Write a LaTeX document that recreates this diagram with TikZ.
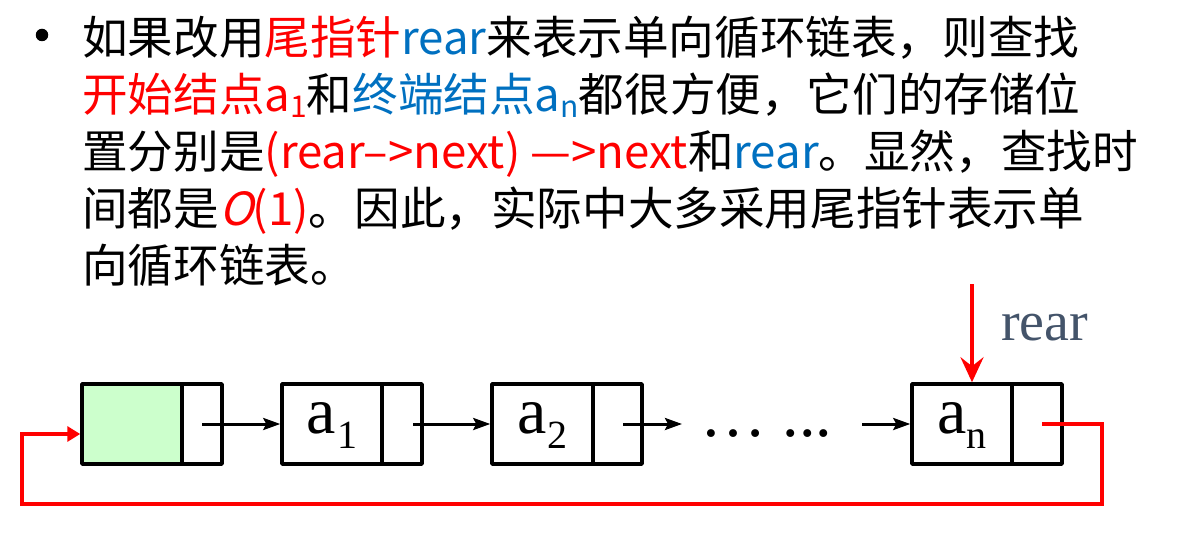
\documentclass[tikz,border=0pt]{standalone}
\usepackage{fontspec}
\setmainfont{Liberation Serif}
\newfontfamily\cjk{Noto Sans CJK SC}
\newfontfamily\cjkslant[FakeSlant=0.25]{Noto Sans CJK SC}
\usetikzlibrary{arrows.meta}
\definecolor{pptred}{RGB}{255,0,0}
\definecolor{pptblue}{RGB}{0,112,192}
\definecolor{reargray}{RGB}{68,84,106}
\definecolor{headgreen}{RGB}{204,255,204}
\newcommand{\txtsub}[1]{\raisebox{-6pt}{\fontsize{30}{30}\selectfont #1}}
\newcommand{\lblsub}[1]{\raisebox{-15pt}{\fontsize{40}{40}\selectfont #1}}
\begin{document}
\begin{tikzpicture}[x=1pt,y=-1pt,
  txt/.style={anchor=base west, inner sep=0pt, font=\cjk\fontsize{45.6}{45.6}\selectfont},
  field/.style={draw, line width=3.5pt, line join=round, minimum width=#1,
    minimum height=80pt, inner sep=0pt, text height=31pt, text depth=12pt,
    font=\fontsize{66}{66}\selectfont},
  link/.style={line width=3pt, -{Stealth[length=17pt,width=12pt,inset=3pt]}},
  redline/.style={draw=pptred, line width=4pt},
]
\useasboundingbox (0,0) rectangle (1188,553);

% bullet and text
\node[circle, fill=black, inner sep=0pt, minimum size=12.5pt] (bullet) at (42,35) {};
\node[txt] (l1) at (82,55) {如果改用{\color{pptred}尾指针}{\color{pptblue}rear}来表示单向循环链表，则查找};
\node[txt] (l2) at (82,112) {{\color{pptred}开始结点a\txtsub{1}}和{\color{pptblue}终端结点a\txtsub{n}}都很方便，它们的存储位};
\node[txt] (l3) at (82,169) {置分别是{\color{pptred}(rear–>next) —>next}和{\color{pptblue}rear}。显然，查找时};
\node[txt] (l4) at (82,226) {间都是{\color{pptred}{\cjkslant O}(1)}。因此，实际中大多采用尾指针表示单};
\node[txt] (l5) at (82,283) {向循环链表。};

% list nodes
\node[field=100pt, fill=headgreen] (h) at (132,424) {};
\node[field=40pt] (hp) at (202,424) {};
\node[field=100pt] (a1) at (332,424) {a\kern1pt\lblsub{1}};
\node[field=40pt] (a1p) at (402,424) {};
\node[field=101pt] (a2) at (542.5,424) {a\kern1pt\lblsub{2}};
\node[field=49pt] (a2p) at (617.5,424) {};
\node[field=100pt] (an) at (962,424) {a\lblsub{n}};
\node[field=50pt] (anp) at (1037,424) {};

\node[anchor=base west, inner sep=0pt, font=\fontsize{66}{66}\selectfont] (dots) at (700,436) {… ...};
\node[anchor=base west, inner sep=0pt, text=reargray, font=\fontsize{56}{56}\selectfont] (rearlbl) at (1001,340) {rear};

% links
\coordinate (dotsin) at (682,424);
\coordinate (dotsout) at (862,424);
\draw[link] (hp.center) -- (a1.west);
\draw[link] ([xshift=11pt]a1p.center) -- (a2.west);
\draw[link] ([xshift=5.5pt]a2p.center) -- (dotsin);
\draw[link] (dotsout) -- (an.west);

% rear pointer
\coordinate (rearstart) at (972,284);
\draw[redline, -{Stealth[length=25pt,width=23pt,inset=9pt]}] (rearstart) -- (rearstart |- an.north);

% circular link
\coordinate (loopstart) at (1042,424);
\coordinate (loopturn) at (1102,504);
\coordinate (loopleft) at (22,504);
\draw[redline, line join=miter, -{Triangle[length=13pt,width=15pt]}] (loopstart) -| (loopturn) -- (loopleft) |- ([yshift=-10pt]h.west);
\end{tikzpicture}
\end{document}
